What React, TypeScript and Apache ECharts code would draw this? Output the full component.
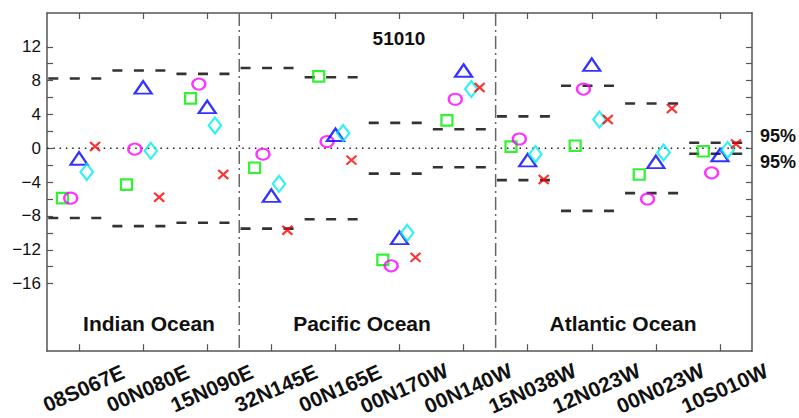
import React, { useEffect, useRef } from "react";
import * as echarts from "echarts";

// ---- Data ----
const stations = ["08S067E", "00N080E", "15N090E", "32N145E", "00N165E", "00N170W", "00N140W", "15N038W", "12N023W", "00N023W", "10S010W"];
const squareVals = [-5.9, -4.3, 5.9, -2.3, 8.5, -13.2, 3.3, 0.2, 0.3, -3.1, -0.35];
const circleVals = [-5.9, -0.1, 7.6, -0.7, 0.8, -13.9, 5.8, 1.1, 7.0, -6.0, -2.9];
const triangleVals = [-1.2, 7.2, 4.9, -5.6, 1.6, -10.6, 9.2, -1.4, 9.9, -1.6, -0.8];
const diamondVals = [-2.8, -0.3, 2.7, -4.2, 1.8, -10.0, 7.0, -0.7, 3.4, -0.5, -0.2];
const crossVals = [0.2, -5.8, -3.1, -9.7, -1.4, -12.9, 7.2, -3.7, 3.4, 4.7, 0.5];
const bounds95 = [8.25, 9.2, 8.8, 9.5, 8.4, 3.0, 2.25, 3.77, 7.4, 5.3, 0.65];
const oceanBoundaries = [2.5, 6.5];
const yTickValues = [-16, -14, -12, -10, -8, -6, -4, -2, 0, 2, 4, 6, 8, 10, 12];
const yLabelValues = [-16, -12, -8, -4, 0, 4, 8, 12];
const oceanNames = ["Indian Ocean", "Pacific Ocean", "Atlantic Ocean"];
const titleText = "51010";

const FONT = "'Liberation Sans', Arial, Helvetica, sans-serif";
const AXIS_COLOR = "#555";

export default function App() {
  const ref = useRef<HTMLDivElement>(null);

  useEffect(() => {
    if (!ref.current) return;
    const chart = echarts.init(ref.current, undefined, { renderer: "svg" });
    const stationIdx = stations.map((_, i) => i);

    const scatter = (name: string, vals: number[], offset: number, symbol: string, size: any, color: string) => ({
      name,
      type: "scatter",
      xAxisIndex: 0,
      yAxisIndex: 0,
      z: 5,
      symbol,
      symbolSize: size,
      itemStyle: { color: "transparent", borderColor: color, borderWidth: 2.2 },
      data: vals.map((v, i) => [i + offset, v]),
    });

    const axisLineStyle = { color: AXIS_COLOR, width: 1.5 };

    const option: any = {
      animation: false,
      grid: { left: 47, top: 13, right: 47, bottom: 64, containLabel: false },
      xAxis: [
        {
          type: "value",
          position: "bottom",
          min: -0.5,
          max: 10.5,
          splitLine: { show: false },
          axisLine: { show: true, onZero: false, lineStyle: axisLineStyle },
          axisTick: { show: true, inside: true, length: 7, customValues: stationIdx, lineStyle: { color: AXIS_COLOR, width: 1.2 } },
          axisLabel: {
            customValues: stationIdx,
            formatter: (v: number) => stations[Math.round(v)] ?? "",
            rotate: 24,
            align: "center",
            verticalAlign: "middle",
            margin: 39,
            padding: [0, 0, 0, 10],
            fontFamily: FONT,
            fontWeight: "bold",
            fontSize: 21,
            color: "#111",
          },
        },
        {
          type: "value",
          position: "top",
          min: -0.5,
          max: 10.5,
          splitLine: { show: false },
          axisLine: { show: true, onZero: false, lineStyle: axisLineStyle },
          axisTick: { show: true, inside: true, length: 6, customValues: stationIdx, lineStyle: { color: AXIS_COLOR, width: 1.2 } },
          axisLabel: { show: false },
        },
      ],
      yAxis: [
        {
          type: "value",
          position: "left",
          min: -24,
          max: 16,
          interval: 2,
          splitLine: { show: false },
          axisLine: { show: true, onZero: false, lineStyle: axisLineStyle },
          axisTick: { show: true, inside: true, length: 6, customValues: yTickValues, lineStyle: { color: AXIS_COLOR, width: 1.2 } },
          axisLabel: {
            customValues: yLabelValues,
            formatter: (v: number) => (v < 0 ? "\u2212" + Math.abs(v) : String(v)),
            margin: 6,
            fontFamily: FONT,
            fontSize: 17,
            color: "#111",
          },
        },
        {
          type: "value",
          position: "right",
          min: -24,
          max: 16,
          interval: 2,
          splitLine: { show: false },
          axisLine: { show: true, onZero: false, lineStyle: axisLineStyle },
          axisTick: { show: true, inside: true, length: 6, customValues: yTickValues, lineStyle: { color: AXIS_COLOR, width: 1.2 } },
          axisLabel: { show: false },
        },
      ],
      series: [
        // zero reference (dotted)
        {
          type: "custom",
          xAxisIndex: 0,
          yAxisIndex: 0,
          z: 2,
          data: [[-0.5, 0]],
          renderItem: (params: any, api: any) => {
            const cs = params.coordSys;
            const y = api.coord([api.value(0), api.value(1)])[1];
            return {
              type: "line",
              shape: { x1: cs.x, y1: y, x2: cs.x + cs.width, y2: y },
              style: { stroke: "#222", lineWidth: 1.6, lineDash: [1.5, 4.8] },
            };
          },
        },
        // ocean separators (dash-dot)
        {
          type: "custom",
          xAxisIndex: 0,
          yAxisIndex: 0,
          z: 2,
          data: oceanBoundaries.map((x) => [x, 0]),
          renderItem: (params: any, api: any) => {
            const cs = params.coordSys;
            const x = api.coord([api.value(0), 0])[0];
            return {
              type: "line",
              shape: { x1: x, y1: cs.y, x2: x, y2: cs.y + cs.height },
              style: { stroke: "#666", lineWidth: 1.5, lineDash: [13, 4, 2, 4] },
            };
          },
        },
        // 95% bounds (dashed, +/-)
        {
          type: "custom",
          xAxisIndex: 0,
          yAxisIndex: 0,
          z: 3,
          data: bounds95.map((b, i) => [i, b]),
          renderItem: (params: any, api: any) => {
            const i = api.value(0);
            const b = api.value(1);
            const style = { stroke: "#333", lineWidth: 2.6, lineDash: [10, 11.5] };
            const a1 = api.coord([i - 0.48, b]);
            const a2 = api.coord([i + 0.35, b]);
            const b1 = api.coord([i - 0.48, -b]);
            const b2 = api.coord([i + 0.35, -b]);
            return {
              type: "group",
              children: [
                { type: "line", shape: { x1: a1[0], y1: a1[1], x2: a2[0], y2: a2[1] }, style },
                { type: "line", shape: { x1: b1[0], y1: b1[1], x2: b2[0], y2: b2[1] }, style },
              ],
            };
          },
        },
        scatter("square", squareVals, -0.26, "rect", [11, 10.5], "#00ee00"),
        scatter("circle", circleVals, -0.13, "circle", [13, 11], "#ff00ff"),
        scatter("triangle", triangleVals, 0, "triangle", [17, 12.5], "#0000ff"),
        scatter("diamond", diamondVals, 0.12, "diamond", [12.5, 16], "#00eeee"),
        scatter("cross", crossVals, 0.25, "path://M0,0L10,10M10,0L0,10", [10, 9], "#ff0000"),
      ],
      graphic: [
        { type: "text", x: 399, y: 38, style: { text: titleText, font: `bold 19px ${FONT}`, fill: "#111", align: "center", verticalAlign: "middle" } },
        { type: "text", x: 149, y: 323, style: { text: oceanNames[0], font: `bold 21px ${FONT}`, fill: "#111", align: "center", verticalAlign: "middle" } },
        { type: "text", x: 362, y: 323, style: { text: oceanNames[1], font: `bold 21px ${FONT}`, fill: "#111", align: "center", verticalAlign: "middle" } },
        { type: "text", x: 623, y: 323, style: { text: oceanNames[2], font: `bold 21px ${FONT}`, fill: "#111", align: "center", verticalAlign: "middle" } },
        { type: "text", x: 760, y: 136, style: { text: "95%", font: `bold 18px ${FONT}`, fill: "#111", align: "left", verticalAlign: "middle" } },
        { type: "text", x: 760, y: 162, style: { text: "95%", font: `bold 18px ${FONT}`, fill: "#111", align: "left", verticalAlign: "middle" } },
      ],
    };

    chart.setOption(option);
    return () => chart.dispose();
  }, []);

  return (
    <div
      ref={ref}
      style={{ position: "fixed", left: 0, top: 0, width: 799, height: 418, background: "#fff" }}
    />
  );
}
